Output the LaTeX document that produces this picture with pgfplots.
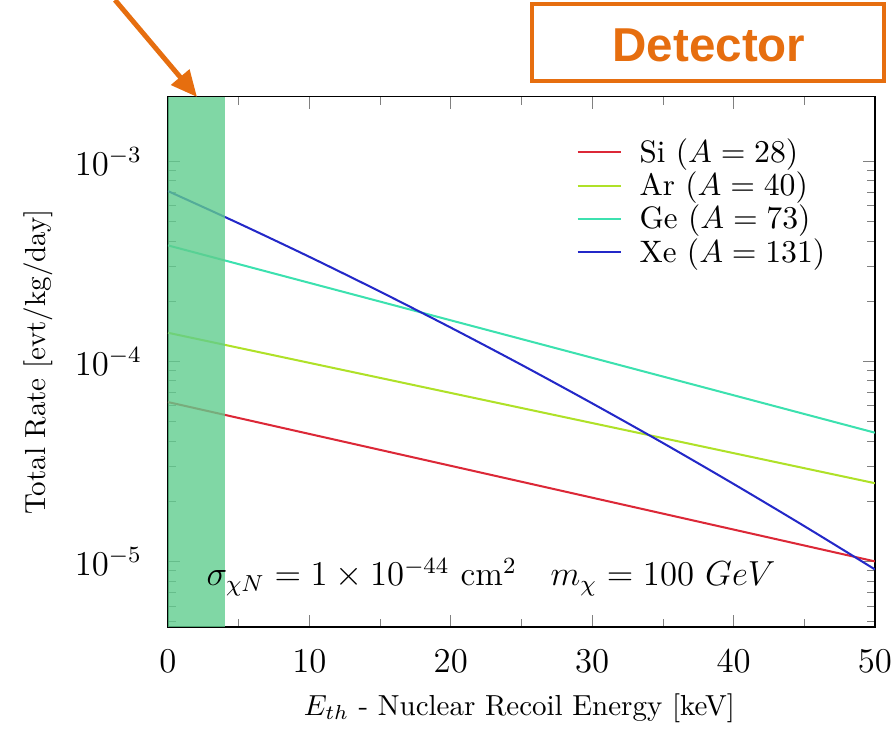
\documentclass[border=0pt]{standalone}
\usepackage{pgfplots}
\pgfplotsset{compat=1.18}
\usepackage{fontspec}
\newfontfamily\arialfont{Liberation Sans}
\usetikzlibrary{arrows.meta}

\definecolor{SiRed}{RGB}{220,40,55}
\definecolor{ArLime}{RGB}{175,225,40}
\definecolor{GeTeal}{RGB}{60,225,175}
\definecolor{XeBlue}{RGB}{35,40,200}
\definecolor{BandGreen}{RGB}{96,205,142}
\definecolor{OrangeBox}{RGB}{230,110,15}

\begin{document}
\begin{tikzpicture}
\begin{axis}[
  scale only axis,
  width=243.9pt, height=182.9pt,
  xmin=0, xmax=50,
  ymode=log, ymin=4.7e-6, ymax=2.1e-3,
  xtick={0,10,...,50}, minor x tick num=1,
  tick align=inside,
  ticklabel style={font=\large},
  xticklabel style={yshift=-4.5pt},
  yticklabel style={xshift=-5.5pt},
  xlabel={$E_{th}$ - Nuclear Recoil Energy [keV]},
  ylabel={Total Rate [evt/kg/day]},
  label style={font=\fontsize{10.8}{13}\selectfont},
  every axis x label/.style={at={(axis description cs:0.497,-0.153)}, anchor=center},
  every axis y label/.style={at={(axis description cs:-0.184,0.5)}, rotate=90, anchor=center},
  legend style={at={(axis description cs:0.565,0.945)}, anchor=north west,
    draw=none, fill=none, font=\fontsize{10.7}{12}\selectfont, row sep=-2.2pt},
  legend cell align=left,
  legend image code/.code={\draw[#1] (0pt,0pt) -- (15pt,0pt);},
]
% Si
\addplot[SiRed, line width=0.7pt] coordinates {(0,6.26e-5)(50,1.0e-5)};
\addlegendentry{\hspace{4pt}Si $(A=28)$}
% Ar
\addplot[ArLime, line width=0.7pt] coordinates {(0,1.39e-4)(50,2.46e-5)};
\addlegendentry{\hspace{4pt}Ar $(A=40)$}
% Ge
\addplot[GeTeal, line width=0.7pt] coordinates {(0,3.80e-4)(50,4.40e-5)};
\addlegendentry{\hspace{4pt}Ge $(A=73)$}
% Xe (bends down a little on the log axis)
\addplot[XeBlue, line width=0.7pt, smooth] coordinates {
  (0,7.10e-4)(5,4.898e-4)(10,3.331e-4)(15,2.232e-4)(20,1.475e-4)
  (25,9.61e-5)(30,6.17e-5)(35,3.91e-5)(40,2.44e-5)(45,1.502e-5)(50,9.12e-6)};
\addlegendentry{\hspace{4pt}Xe $(A=131)$}

% threshold band, 0--4 keV
\addplot[draw=none, fill=BandGreen, fill opacity=0.8, forget plot]
  coordinates {(0,4.7e-6)(4,4.7e-6)(4,2.1e-3)(0,2.1e-3)} -- cycle;
\end{axis}

% annotations in reference pixel units (axis lower-left = px 168,627)
\begin{scope}[x=0.345pt, y=-0.345pt, shift={(-57.96pt,216.32pt)}]
  \node[font=\fontsize{11.7}{14}\selectfont] at (491,577)
    {$\sigma_{\chi N} = 1\times10^{-44}~\mathrm{cm}^2 \quad m_\chi = 100~GeV$};
  \draw[OrangeBox, line width=1.4pt] (532,4) rectangle (884,81);
  \node[OrangeBox, font=\arialfont\bfseries\fontsize{16.4}{19}\selectfont] at (709,45) {Detector};
  \draw[OrangeBox, line width=1.7pt, -{Triangle[length=9pt,width=8pt]}] (115,0) -- (197,97);
  \pgfresetboundingbox
  \path[use as bounding box] (0,0) rectangle (894,731);
\end{scope}
\end{tikzpicture}
\end{document}
